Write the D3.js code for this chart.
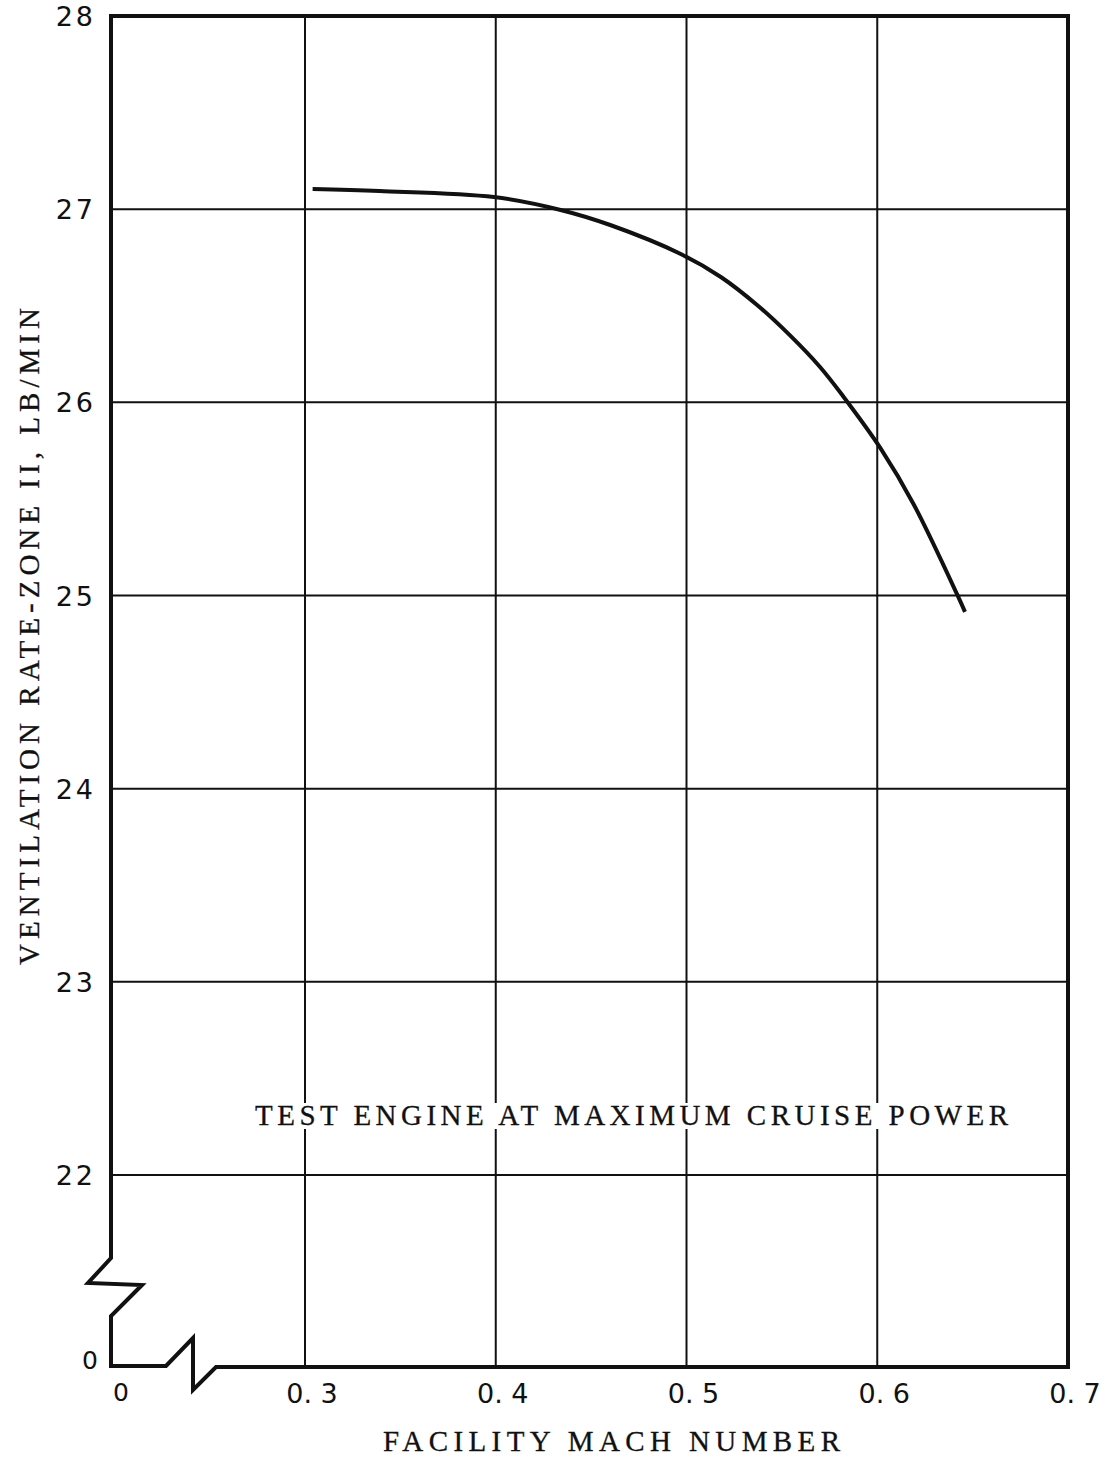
<!DOCTYPE html>
<html>
<head>
<meta charset="utf-8">
<script src="https://cdn.jsdelivr.net/npm/d3@7"></script>
<style>
  html, body { margin: 0; padding: 0; background: #fff; }
  svg { display: block; }
</style>
</head>
<body>
<svg id="chart" width="1107" height="1460"></svg>
<script>
// Ventilation rate, zone II, versus facility Mach number
const machValues = [0.304, 0.339, 0.399, 0.434, 0.460, 0.497, 0.518, 0.537, 0.554, 0.570, 0.582, 0.602, 0.619, 0.642, 0.646];
const rateValues = [27.104, 27.094, 27.063, 26.996, 26.918, 26.768, 26.649, 26.504, 26.349, 26.183, 26.033, 25.758, 25.474, 25.003, 24.915];

const xTicks = [0.3, 0.4, 0.5, 0.6, 0.7];
const xTickLabels = ["0. 3", "0. 4", "0. 5", "0. 6", "0. 7"];
const yTicks = [22, 23, 24, 25, 26, 27, 28];
const yTickLabels = ["22", "23", "24", "25", "26", "27", "28"];
const originLabel = "0";

const xTitle = "FACILITY MACH NUMBER";
const yTitle = "VENTILATION RATE-ZONE II, LB/MIN";
const note = "TEST ENGINE AT MAXIMUM CRUISE POWER";

(function draw() {
  const svg = d3.select("#chart");
  const ink = "#111";
  const serif = "Liberation Serif, serif";
  const tickFont = "DejaVu Sans, sans-serif";

  // frame geometry (axes are broken below 22 and left of 0.3)
  const frameL = 111, frameR = 1068, frameT = 16, frameB = 1366;

  const x = d3.scaleLinear().domain([0.3, 0.7]).range([305, frameR]);
  const y = d3.scaleLinear().domain([22, 28]).range([1175, frameT]);

  // vertical grid lines
  svg.append("g")
    .selectAll("line")
    .data(xTicks.filter(d => d < 0.7))
    .join("line")
    .attr("x1", d => x(d)).attr("x2", d => x(d))
    .attr("y1", frameT).attr("y2", frameB)
    .attr("stroke", ink).attr("stroke-width", 2);

  // horizontal grid lines
  svg.append("g")
    .selectAll("line")
    .data(yTicks.filter(d => d < 28))
    .join("line")
    .attr("x1", frameL).attr("x2", frameR)
    .attr("y1", d => y(d)).attr("y2", d => y(d))
    .attr("stroke", ink).attr("stroke-width", 2);

  // annotation with a knocked-out background
  const noteG = svg.append("g");
  const noteText = noteG.append("text")
    .attr("x", 255).attr("y", 1125)
    .attr("font-family", serif)
    .attr("font-size", 29)
    .attr("textLength", 753)
    .attr("lengthAdjust", "spacing")
    .attr("fill", ink)
    .attr("stroke", ink).attr("stroke-width", 0.3)
    .text(note);
  const nb = noteText.node().getBBox();
  noteG.insert("rect", "text")
    .attr("x", nb.x - 2).attr("y", nb.y + 4)
    .attr("width", nb.width + 4).attr("height", nb.height - 6)
    .attr("fill", "#fff");

  // frame with axis break symbols
  const frame = [
    [frameL, frameT], [frameL, 1258], [88, 1283], [142, 1285], [frameL, 1316], [frameL, frameB],
    [166, frameB], [193, 1338], [193, 1390], [216, 1367], [frameR, 1367], [frameR, frameT]
  ];
  svg.append("path")
    .attr("d", d3.line()(frame) + "Z")
    .attr("fill", "none")
    .attr("stroke", ink)
    .attr("stroke-width", 4)
    .attr("stroke-linejoin", "miter");

  // data curve
  const pts = machValues.map((m, i) => [m, rateValues[i]]);
  svg.append("path")
    .datum(pts)
    .attr("d", d3.line().x(d => x(d[0])).y(d => y(d[1])).curve(d3.curveCatmullRom.alpha(0.5)))
    .attr("fill", "none")
    .attr("stroke", ink)
    .attr("stroke-width", 4)
    .attr("stroke-linecap", "butt");

  // tick labels
  svg.append("g")
    .selectAll("text")
    .data(xTicks)
    .join("text")
    .attr("x", d => x(d) + 7)
    .attr("y", 1403)
    .attr("text-anchor", "middle")
    .attr("font-family", tickFont)
    .attr("font-size", 27)
    .attr("fill", ink)
    .text((d, i) => xTickLabels[i]);

  svg.append("g")
    .selectAll("text")
    .data(yTicks)
    .join("text")
    .attr("x", 96)
    .attr("y", d => y(d) + 10)
    .attr("text-anchor", "end")
    .attr("font-family", tickFont)
    .attr("font-size", 27)
    .attr("letter-spacing", 3)
    .attr("fill", ink)
    .text((d, i) => yTickLabels[i]);

  // origin labels at the broken corner
  svg.append("text")
    .attr("x", 90).attr("y", 1369)
    .attr("text-anchor", "middle")
    .attr("font-family", tickFont).attr("font-size", 25)
    .attr("fill", ink).text(originLabel);
  svg.append("text")
    .attr("x", 121).attr("y", 1401)
    .attr("text-anchor", "middle")
    .attr("font-family", tickFont).attr("font-size", 25)
    .attr("fill", ink).text(originLabel);

  // axis titles
  svg.append("text")
    .attr("x", 383).attr("y", 1451)
    .attr("font-family", serif)
    .attr("font-size", 29)
    .attr("textLength", 457)
    .attr("lengthAdjust", "spacing")
    .attr("fill", ink)
    .attr("stroke", ink).attr("stroke-width", 0.3)
    .text(xTitle);

  svg.append("text")
    .attr("transform", "translate(39,965) rotate(-90)")
    .attr("font-family", serif)
    .attr("font-size", 29)
    .attr("textLength", 657)
    .attr("lengthAdjust", "spacing")
    .attr("fill", ink)
    .attr("stroke", ink).attr("stroke-width", 0.3)
    .text(yTitle);
})();
</script>
</body>
</html>
